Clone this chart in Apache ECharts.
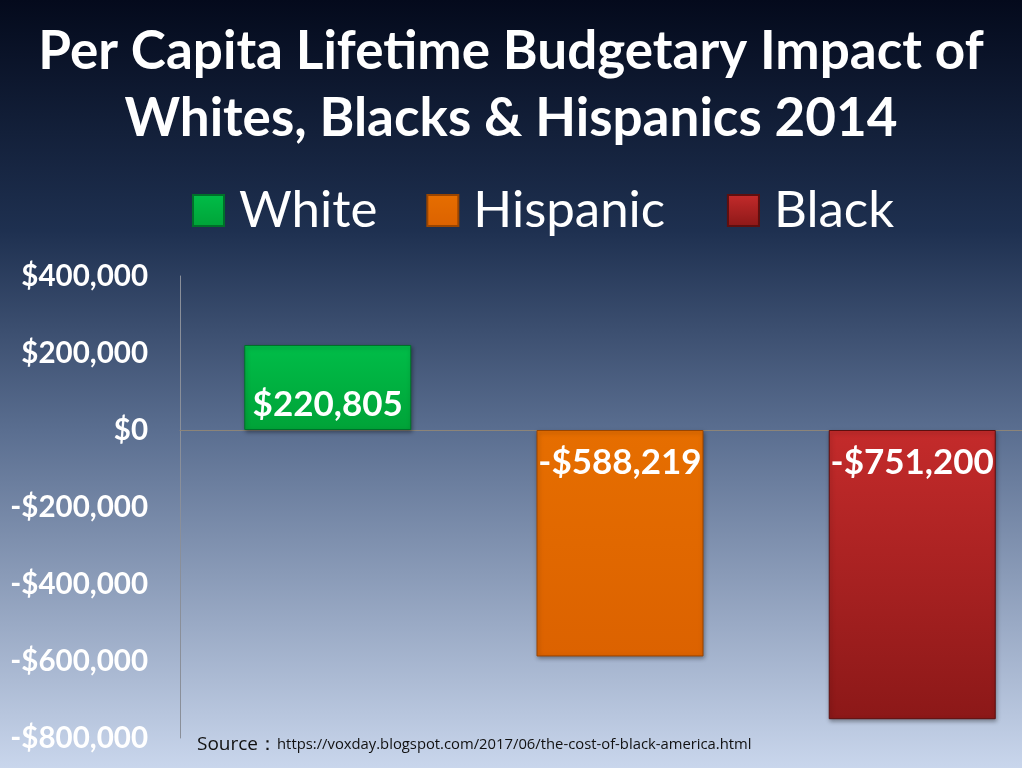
<!DOCTYPE html>
<html>
<head>
<meta charset="utf-8">
<script src="https://cdn.jsdelivr.net/npm/echarts@6/dist/echarts.min.js"></script>
<style>
  html, body { margin: 0; padding: 0; }
  #main { width: 1022px; height: 768px; }
</style>
</head>
<body>
<div id="main"></div>
<script>
// data
const categories = ['2014'];
const seriesNames = ['White', 'Hispanic', 'Black'];
const whiteValues = [220805];
const hispanicValues = [-588219];
const blackValues = [-751200];
const yTicks = { min: -800000, max: 400000, step: 200000 };

const FONT = 'Lato';

function money(v) {
  const s = '$' + Math.abs(v).toLocaleString('en-US');
  return v < 0 ? '-' + s : s;
}

function grad(top, bottom) {
  return new echarts.graphic.LinearGradient(0, 0, 0, 1, [
    { offset: 0, color: top },
    { offset: 1, color: bottom }
  ]);
}

function barSeries(name, data, top, bottom, border, pos, dist) {
  return {
    name: name,
    type: 'bar',
    data: data,
    barWidth: 167,
    barGap: '75%',
    itemStyle: {
      color: grad(top, bottom),
      borderColor: border,
      borderWidth: 1,
      shadowColor: 'rgba(0,0,0,0.35)',
      shadowBlur: 4,
      shadowOffsetX: 1,
      shadowOffsetY: 2
    },
    label: {
      show: true,
      position: pos,
      distance: dist,
      color: '#ffffff',
      fontFamily: FONT,
      fontWeight: 'bold',
      fontSize: 35,
      formatter: p => money(p.value)
    }
  };
}

const myChart = echarts.init(document.getElementById('main'));
myChart.setOption({
  backgroundColor: new echarts.graphic.LinearGradient(0, 0, 0, 1, [
    { offset: 0, color: '#040a1c' },
    { offset: 0.3, color: '#1e3050' },
    { offset: 0.56, color: '#5a6e90' },
    { offset: 1, color: '#c9d6ec' }
  ]),
  animation: false,
  title: {
    text: 'Per Capita Lifetime Budgetary Impact of\nWhites, Blacks & Hispanics 2014',
    left: 'center',
    top: 13,
    textStyle: {
      color: '#ffffff',
      fontFamily: FONT,
      fontWeight: 'bold',
      fontSize: 53,
      lineHeight: 67
    }
  },
  legend: {
    data: seriesNames,
    top: 180,
    left: 187,
    itemWidth: 31,
    itemHeight: 31,
    itemGap: 49,
    icon: 'rect',
    // Hispanic sits a bit further from Black on the slide
    formatter: name => name === 'Hispanic' ? name + '\u2005' : name,
    textStyle: {
      color: '#ffffff',
      fontFamily: FONT,
      fontSize: 51,
      padding: [0, 0, 0, 10]
    }
  },
  grid: { left: 180, width: 880, top: 276, bottom: 30, outerBoundsMode: 'none' },
  xAxis: {
    type: 'category',
    data: categories,
    axisLine: { show: true, lineStyle: { color: '#8c8478', width: 1 } },
    axisTick: { show: false },
    axisLabel: { show: false }
  },
  yAxis: {
    type: 'value',
    min: yTicks.min,
    max: yTicks.max,
    interval: yTicks.step,
    axisLine: { show: true, lineStyle: { color: '#8a8f99', width: 1 } },
    axisTick: { show: false },
    splitLine: { show: false },
    axisLabel: {
      color: '#ffffff',
      fontFamily: FONT,
      fontWeight: 'bold',
      fontSize: 29.5,
      margin: 32,
      formatter: v => money(v)
    }
  },
  series: [
    barSeries(seriesNames[0], whiteValues, '#00bd48', '#00a338', '#00702a', 'insideBottom', 8),
    barSeries(seriesNames[1], hispanicValues, '#e66e00', '#dc6200', '#9a4500', 'insideTop', 15),
    barSeries(seriesNames[2], blackValues, '#c42b2b', '#8c1818', '#5e0f0f', 'insideTop', 15)
  ],
  graphic: [{
    type: 'text',
    left: 197,
    top: 735,
    style: {
      text: '{a|Source：}{b|https://voxday.blogspot.com/2017/06/the-cost-of-black-america.html}',
      rich: {
        a: { fontFamily: 'Open Sans', fontSize: 19, fill: '#111111' },
        b: { fontFamily: 'Open Sans', fontSize: 14.8, fill: '#111111' }
      }
    }
  }]
});
</script>
</body>
</html>
